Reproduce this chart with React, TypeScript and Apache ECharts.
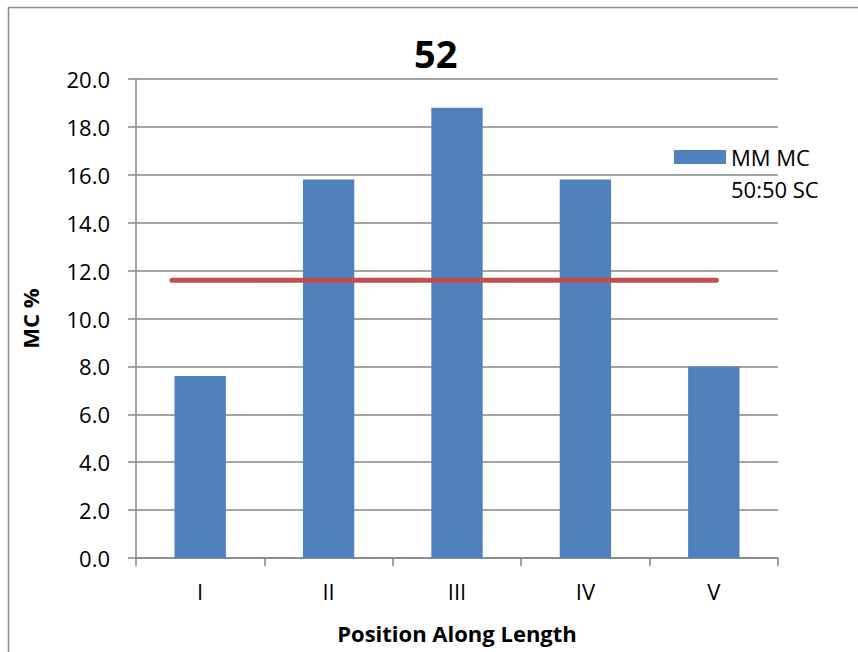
import React, { useEffect, useRef } from "react";
import * as echarts from "echarts";

const categories = ["I", "II", "III", "IV", "V"];
const seriesName = "MM MC 50:50 SC";
const mcValues = [7.6, 15.8, 18.8, 15.8, 8.0];
const referenceValue = 11.6;
const referenceSpan = [0.28, 4.52]; // in category-band units along the x axis
const yTicks = { min: 0, max: 20, interval: 2 };
const titleText = "52";
const xAxisTitle = "Position Along Length";
const yAxisTitle = "MC %";

const FONT = "'Open Sans', 'Liberation Sans', sans-serif";
const GRAY = "#868686";

export default function App() {
  const ref = useRef<HTMLDivElement>(null);
  useEffect(() => {
    if (!ref.current) return;
    const chart = echarts.init(ref.current, null, { renderer: "svg" });
    chart.setOption({
      animation: false,
      backgroundColor: "#ffffff",
      textStyle: { fontFamily: FONT },
      title: {
        text: titleText,
        left: 414,
        top: 34,
        padding: 0,
        textStyle: { fontFamily: FONT, fontSize: 38, fontWeight: "bold", color: "#000" },
      },
      graphic: [
        {
          type: "rect",
          shape: { x: 8.5, y: 7.5, width: 900, height: 700 },
          style: { fill: "none", stroke: "#8a8a8a", lineWidth: 1.5 },
          silent: true,
        },
      ],
      legend: {
        data: [seriesName],
        left: 674,
        top: 141,
        padding: 0,
        itemWidth: 52,
        itemHeight: 46,
        icon: "path://M0,0L52,0L52,14L0,14Z M0,46L52,46Z",
        formatter: () => "MM MC\n50:50 SC",
        textStyle: {
          fontFamily: FONT,
          fontSize: 22,
          color: "#000",
          lineHeight: 32,
        },
      },
      grid: { left: 136, right: 80, top: 79, bottom: 94, containLabel: false },
      xAxis: [
        {
          type: "category",
          data: categories,
          axisLine: { show: true, lineStyle: { color: GRAY, width: 1.5 } },
          axisTick: { show: true, length: 8, lineStyle: { color: GRAY, width: 1.5 } },
          axisLabel: { fontFamily: FONT, fontSize: 22, color: "#000", margin: 22 },
          name: xAxisTitle,
          nameLocation: "middle",
          nameGap: 64,
          nameTextStyle: { fontFamily: FONT, fontSize: 22, fontWeight: "bold", color: "#000" },
        },
        {
          type: "value",
          min: 0,
          max: categories.length,
          show: false,
        },
      ],
      yAxis: {
        type: "value",
        min: yTicks.min,
        max: yTicks.max,
        interval: yTicks.interval,
        axisLine: { show: true, lineStyle: { color: GRAY, width: 1.5 } },
        axisTick: { show: true, length: 8, lineStyle: { color: GRAY, width: 1.5 } },
        splitLine: { show: true, lineStyle: { color: GRAY, width: 1.5 } },
        axisLabel: {
          fontFamily: FONT,
          fontSize: 22,
          color: "#000",
          margin: 26,
          formatter: (v: number) => v.toFixed(1),
        },
        name: yAxisTitle,
        nameLocation: "middle",
        nameGap: 95,
        nameTextStyle: { fontFamily: FONT, fontSize: 22, fontWeight: "bold", color: "#000" },
      },
      series: [
        {
          name: seriesName,
          type: "bar",
          data: mcValues,
          barWidth: "40%",
          itemStyle: { color: "#4F81BD" },
        },
        {
          name: "Reference",
          type: "line",
          xAxisIndex: 1,
          yAxisIndex: 0,
          data: referenceSpan.map((x) => [x, referenceValue]),
          symbol: "none",
          lineStyle: { color: "#C0504D", width: 5, cap: "round" },
        },
      ],
    });
    return () => chart.dispose();
  }, []);
  return (
    <div
      ref={ref}
      style={{ position: "fixed", left: 0, top: 0, width: 858, height: 652 }}
    />
  );
}
